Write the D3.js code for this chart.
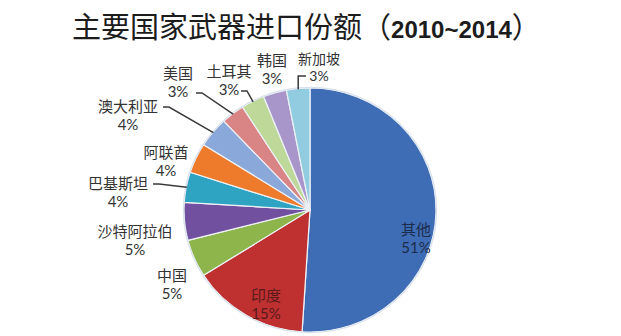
<!DOCTYPE html>
<html><head><meta charset="utf-8">
<script src="https://cdn.jsdelivr.net/npm/d3@7"></script>
<style>body{margin:0;background:#fff}svg{display:block}</style>
</head><body><svg id="c" width="621" height="336"></svg>
<script>
// ---- data ----
const categories = ["其他","印度","中国","沙特阿拉伯","巴基斯坦","阿联酋","澳大利亚","美国","土耳其","韩国","新加坡"];
const shares = [51,15,5,5,4,4,4,3,3,3,3];
const shareLabels = shares.map(v => v + "%");
const colors = ["#3E6DB5","#BF3131","#8DB54B","#7150A0","#2EA3C2","#EE7B2C","#8AA8DA","#D98586","#BED89A","#A896CB","#91CCE0"];
const titleText = "主要国家武器进口份额";
const titleYears = "2010~2014";

// ---- layout ----
const W = 621, H = 336;
const cx = 310, cy = 210, rx = 126, ry = 122, R = 124;
const labelLayout = [
  {x:416, y:228, inside:true, fill:"#1d2c4c"},
  {x:266, y:294, inside:true, fill:"#5a1a1a"},
  {x:172, y:274},
  {x:135, y:230},
  {x:118, y:182, leader:[153,184]},
  {x:166, y:151},
  {x:128, y:105, leader:[163,107]},
  {x:178, y:72, leader:[196,93]},
  {x:229, y:70, leader:[241,91]},
  {x:272, y:59},
  {x:319, y:57.5, gap:18.3, size:14, leader:[306,76], elbow:true}
];
const pctGap = 19;

const svg = d3.select("#c");

// title
const t = svg.append("text").attr("x", 72).attr("y", 38)
  .attr("fill", "#1c1c1c");
t.append("tspan").attr("font-family", "'Noto Sans CJK SC'").attr("font-size", 29).text(titleText);
t.append("tspan").attr("font-family", "'Noto Sans CJK SC'").attr("font-size", 29).text("（");
t.append("tspan").attr("font-family", "'Liberation Sans', Arial, sans-serif").attr("font-weight", "bold").attr("font-size", 24).text(titleYears);
t.append("tspan").attr("font-family", "'Noto Sans CJK SC'").attr("font-size", 29).text("）");

// pie
const pie = d3.pie().sort(null).value(d => d).startAngle(0).endAngle(2 * Math.PI);
const arcs = pie(shares);
const arc = d3.arc().innerRadius(0).outerRadius(R);

const g = svg.append("g").attr("transform", `translate(${cx},${cy}) scale(${rx / R},${ry / R})`);
g.selectAll("path.slice").data(arcs).join("path")
  .attr("class", "slice")
  .attr("d", arc)
  .attr("fill", (d, i) => colors[i])
  .attr("stroke", "#eef2f7")
  .attr("stroke-width", 1.2)
  .attr("stroke-linejoin", "round");
// outer rim
g.append("ellipse").attr("cx", 0).attr("cy", 0).attr("rx", R + 0.6).attr("ry", R + 0.6)
  .attr("fill", "none").attr("stroke", "#d9e1ec").attr("stroke-width", 1.2);

// leader lines
function edgePoint(d) {
  const a = (d.startAngle + d.endAngle) / 2;
  return [cx + rx * 0.995 * Math.sin(a), cy - ry * 0.995 * Math.cos(a)];
}
arcs.forEach((d, i) => {
  const L = labelLayout[i];
  if (!L.leader) return;
  const e = edgePoint(d);
  const s = L.leader;
  let pts;
  if (L.elbow) pts = [s, [e[0], s[1]], e];
  else pts = [s, [s[0] + 6, s[1]], e];
  svg.append("path").attr("d", d3.line()(pts))
    .attr("fill", "none").attr("stroke", "#3a3a3a").attr("stroke-width", 1.5);
});

// labels
const lab = svg.append("g");
arcs.forEach((d, i) => {
  const L = labelLayout[i];
  const fill = L.fill || "#333";
  const fs = L.size || 15;
  lab.append("text").attr("x", L.x).attr("y", L.y)
    .attr("text-anchor", "middle").attr("dominant-baseline", "central")
    .attr("font-family", "'Noto Sans CJK SC'").attr("font-size", fs)
    .attr("fill", fill).text(categories[i]);
  lab.append("text").attr("x", L.x).attr("y", L.y + (L.gap || pctGap))
    .attr("text-anchor", "middle").attr("dominant-baseline", "central")
    .attr("font-family", "Lato, 'Open Sans', sans-serif").attr("font-size", fs)
    .attr("fill", fill).text(shareLabels[i]);
});
</script>
</body></html>
